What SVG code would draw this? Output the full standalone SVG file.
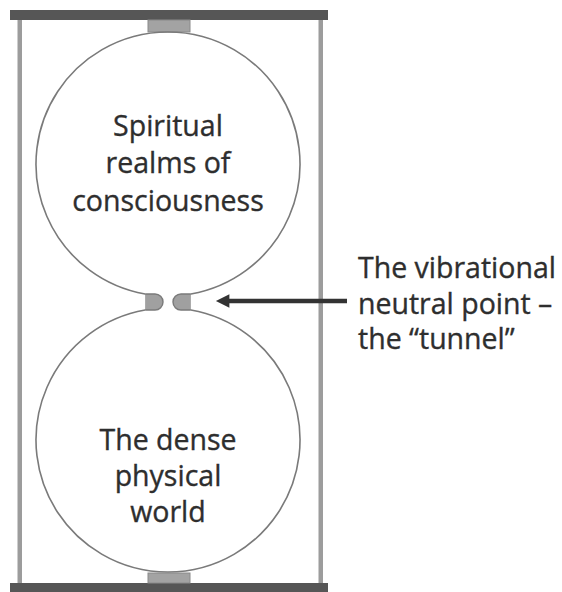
<svg xmlns="http://www.w3.org/2000/svg" width="562" height="592" viewBox="0 0 562 592">
<defs>
<style>
.bar{fill:#565656}
.post{fill:#9c9c9c}
.block{fill:#a3a3a3;stroke:#8a8a8a;stroke-width:1}
.outline{fill:none;stroke:#7a7a7a;stroke-width:1.6}
.cap{fill:#a0a0a0;stroke:#7a7a7a;stroke-width:1.4}
.lbl{font-family:"Open Sans","DejaVu Sans",sans-serif;font-size:28.5px;fill:#2e2e2e;stroke:#2e2e2e;stroke-width:0.35}
.conn{stroke:#333;stroke-width:4.5;fill:none}
</style>
<marker id="ah" viewBox="0 0 10 10" refX="1" refY="5" markerWidth="4.2" markerHeight="3" orient="auto-start-reverse" markerUnits="strokeWidth">
<path d="M0,0 L10,5 L0,10 Z" fill="#333"/>
</marker>
</defs>
<rect width="562" height="592" fill="#ffffff"/>
<g id="frame">
<rect class="post" x="17.5" y="18" width="4.5" height="566"/>
<rect class="post" x="318.5" y="18" width="4.5" height="566"/>
<rect class="bar" x="10" y="10" width="318" height="10"/>
<rect class="bar" x="10" y="583" width="318" height="9"/>
<rect class="block" x="148" y="20" width="42" height="12"/>
<rect class="block" x="148" y="573" width="42" height="10"/>
</g>
<g id="hourglass">
<path class="outline" d="M145.1,294 A132,132 0 1 1 190.9,294 M190.9,310 A132,132 0 1 1 145.1,310"/>
<path class="cap" d="M145.1,294 L155,294 A8,8 0 0 1 155,310 L145.1,310"/>
<path class="cap" d="M190.9,294 L181,294 A8,8 0 0 0 181,310 L190.9,310"/>
</g>
<g id="upper-realm">
<text class="lbl" text-anchor="middle"><tspan x="168" y="136">Spiritual</tspan><tspan x="168" y="173">realms of</tspan><tspan x="168" y="211">consciousness</tspan></text>
</g>
<g id="lower-world">
<text class="lbl" text-anchor="middle"><tspan x="168" y="450">The dense</tspan><tspan x="168" y="486">physical</tspan><tspan x="168" y="522">world</tspan></text>
</g>
<g id="tunnel-label">
<text class="lbl"><tspan x="358" y="278">The vibrational</tspan><tspan x="358" y="314">neutral point –</tspan><tspan x="358" y="349">the “tunnel”</tspan></text>
</g>
<g id="connectors">
<path class="conn" d="M347,301 L228,301" marker-end="url(#ah)"/>
</g>
</svg>
